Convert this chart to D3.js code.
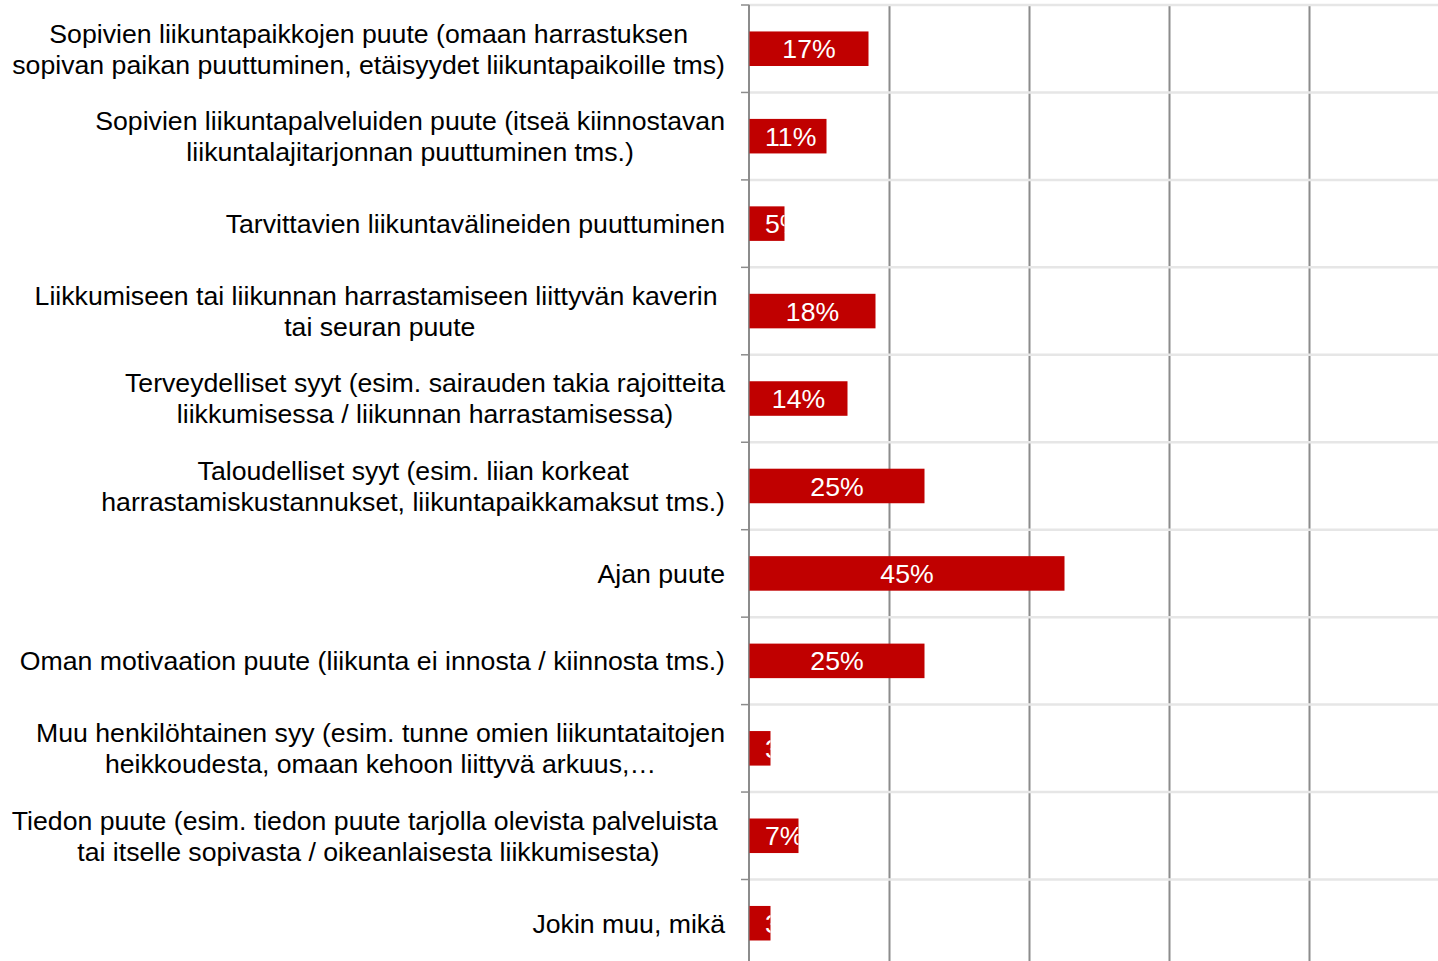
<!DOCTYPE html>
<html>
<head>
<meta charset="utf-8">
<script src="https://cdn.jsdelivr.net/npm/d3@7"></script>
<style>
  html, body { margin: 0; padding: 0; background: #fff; }
  svg { display: block; font-family: "Liberation Sans", Arial, sans-serif; }
</style>
</head>
<body>
<svg id="chart" width="1438" height="961"></svg>
<script>
// category labels, already wrapped as in the original
var categories = [
  ["Sopivien liikuntapaikkojen puute (omaan harrastuksen", "sopivan paikan puuttuminen, etäisyydet liikuntapaikoille tms)"],
  ["Sopivien liikuntapalveluiden puute (itseä kiinnostavan", "liikuntalajitarjonnan puuttuminen tms.)"],
  ["Tarvittavien liikuntavälineiden puuttuminen"],
  ["Liikkumiseen tai liikunnan harrastamiseen liittyvän kaverin ", "tai seuran puute"],
  ["Terveydelliset syyt (esim. sairauden takia rajoitteita", "liikkumisessa / liikunnan harrastamisessa)"],
  ["Taloudelliset syyt (esim. liian korkeat", "harrastamiskustannukset, liikuntapaikkamaksut tms.)"],
  ["Ajan puute"],
  ["Oman motivaation puute (liikunta ei innosta / kiinnosta tms.)"],
  ["Muu henkilöhtainen syy (esim. tunne omien liikuntataitojen", "heikkoudesta, omaan kehoon liittyvä arkuus,…"],
  ["Tiedon puute (esim. tiedon puute tarjolla olevista palveluista ", "tai itselle sopivasta / oikeanlaisesta liikkumisesta)"],
  ["Jokin muu, mikä"]
];
var values = [17, 11, 5, 18, 14, 25, 45, 25, 3, 7, 3];
var xTicks = [0, 20, 40, 60, 80, 100];

var color = {
  bar: '#C00000',
  axis: '#8c8c8c',
  grid: '#e6e6e6',
  text: '#000'
};

var svg = d3.select('#chart');
var plotTop = 5, plotLeft = 749.5, bandStep = 87.45;
var fontSize = 26.67;
var n = values.length;

var x = d3.scaleLinear().domain([0, 100]).range([plotLeft, plotLeft + 700]);
var y = d3.scaleBand()
  .domain(d3.range(n))
  .range([plotTop, plotTop + bandStep * n])
  .paddingInner(0.605)
  .paddingOuter(0.3025);

// vertical gridlines
svg.append('g').selectAll('line')
  .data(xTicks.slice(1))
  .join('line')
  .attr('x1', d => x(d)).attr('x2', d => x(d))
  .attr('y1', plotTop).attr('y2', 961)
  .attr('stroke', color.axis).attr('stroke-width', 2);

// horizontal separators between categories
var seps = d3.range(n + 1).map(i => plotTop + i * bandStep);
svg.append('g').selectAll('line')
  .data(seps)
  .join('line')
  .attr('x1', plotLeft).attr('x2', 1438)
  .attr('y1', d => d).attr('y2', d => d)
  .attr('stroke', color.grid).attr('stroke-width', 2.5);

// tick marks left of the axis
svg.append('g').selectAll('line')
  .data(seps)
  .join('line')
  .attr('x1', plotLeft - 8.5).attr('x2', plotLeft)
  .attr('y1', d => d).attr('y2', d => d)
  .attr('stroke', color.axis).attr('stroke-width', 1.5);

// axis line
svg.append('line')
  .attr('x1', plotLeft - 0.5).attr('x2', plotLeft - 0.5)
  .attr('y1', plotTop).attr('y2', 961)
  .attr('stroke', color.axis).attr('stroke-width', 2);

// bars
var defs = svg.append('defs');
defs.selectAll('clipPath')
  .data(values)
  .join('clipPath')
  .attr('id', (d, i) => 'clip' + i)
  .append('rect')
  .attr('x', x(0)).attr('y', (d, i) => y(i))
  .attr('width', d => x(d) - x(0)).attr('height', y.bandwidth());

svg.append('g').selectAll('rect')
  .data(values)
  .join('rect')
  .attr('x', x(0)).attr('y', (d, i) => y(i))
  .attr('width', d => x(d) - x(0)).attr('height', y.bandwidth())
  .attr('fill', color.bar);

// value labels, clipped to the bar like in the source;
// short bars keep the label pushed in from the axis
svg.append('g').selectAll('text')
  .data(values)
  .join('text')
  .attr('clip-path', (d, i) => 'url(#clip' + i + ')')
  .attr('y', (d, i) => y(i) + y.bandwidth() / 2)
  .attr('dy', '0.36em')
  .attr('fill', '#fff')
  .attr('font-size', fontSize)
  .text(d => d + '%')
  .attr('x', function(d) {
    var w = this.getComputedTextLength();
    return Math.max((x(d) + x(0)) / 2 - w / 2, x(0) + 15.5);
  });

// category labels: block right aligned, lines centred
var labelRight = 725, lineH = 31;
var lab = svg.append('g').attr('font-size', fontSize).attr('fill', color.text);
categories.forEach(function(lines, i) {
  var cy = plotTop + (i + 0.5) * bandStep;
  var g = lab.append('g');
  var ts = lines.map(function(s, j) {
    return g.append('text')
      .style('white-space', 'pre')
      .attr('y', cy + (j - (lines.length - 1) / 2) * lineH)
      .attr('dy', '0.35em')
      .attr('text-anchor', 'middle')
      .text(s);
  });
  var w = d3.max(ts, t => t.node().getComputedTextLength());
  ts.forEach(t => t.attr('x', labelRight - w / 2));
});
</script>
</body>
</html>
